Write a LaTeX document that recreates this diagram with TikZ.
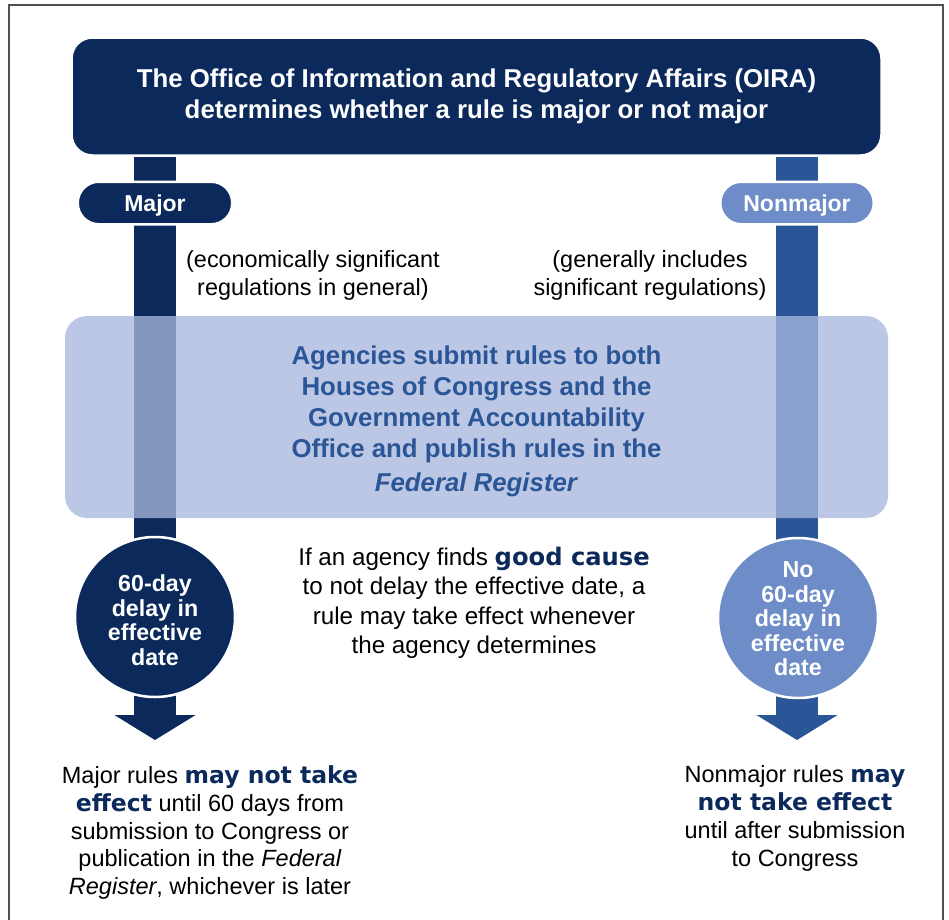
\documentclass[tikz,border=0pt]{standalone}
\usepackage{fontspec}
\setmainfont{Liberation Sans}
\newfontfamily\heavyfont{DejaVu Sans}
\usetikzlibrary{arrows.meta,backgrounds}
\definecolor{navy}{HTML}{0B2A5B}
\definecolor{midblue}{HTML}{2A5596}
\definecolor{lightblue}{HTML}{6E8DC8}
\definecolor{boxblue}{HTML}{A8B7DD}
\definecolor{framegray}{HTML}{505050}
\newcommand\hvy[1]{{\heavyfont\bfseries\color{navy}#1}}
\tikzset{
  titlebox/.style={fill=navy, draw=white, line width=2.5pt, text=white, rounded corners=21pt, minimum width=810pt, minimum height=118pt,
    align=center, font=\bfseries\fontsize{25.8}{31}\selectfont, inner sep=0pt},
  pill/.style={rounded corners=21pt, draw=white, line width=2.5pt, minimum height=42.5pt, text=white, inner sep=0pt,
    text height=16.5pt, text depth=0pt, font=\bfseries\fontsize{23}{24}\selectfont},
  note/.style={align=center, text=black, font=\fontsize{23.4}{28}\selectfont, inner sep=0pt},
  body/.style={align=center, text=black, font=\fontsize{24.2}{29.5}\selectfont, inner sep=0pt},
  bottom/.style={align=center, text=black, font=\fontsize{23.5}{27.75}\selectfont, inner sep=0pt},
  midbox/.style={fill=boxblue, fill opacity=0.775, rounded corners=22pt,
    minimum width=823pt, minimum height=202pt, inner sep=0pt},
  midtext/.style={align=center, text=midblue, inner sep=0pt,
    font=\bfseries\fontsize{25.8}{31}\selectfont},
  delay/.style={circle, draw=white, line width=2.5pt, minimum size=160pt, inner sep=0pt},
  delaytext/.style={align=center, text=white, inner sep=0pt, font=\bfseries\fontsize{23.2}{24.5}\selectfont},
  stemline/.style={line width=42pt},
  downarrow/.style={line width=42pt, -{Triangle[width=80pt,length=25pt]}},
}
\begin{document}
\begin{tikzpicture}[x=1pt,y=-1pt]
\useasboundingbox (0,0) rectangle (949,919);
\draw[framegray, line width=1.5pt] (9,925) -- (9,5) -- (943,5) -- (943,925);

\node[titlebox] (oira) at (476.5,96.5) {The Office of Information and Regulatory Affairs (OIRA)\\determines whether a rule is major or not major};

\node[pill, fill=navy, minimum width=154.5pt] (major) at (155,203) {Major};
\node[pill, fill=lightblue, minimum width=153.5pt] (nonmajor) at (797,203) {Nonmajor};

\node[note] (econ) at (313,275) {(economically significant\\regulations in general)};
\node[note] (gen) at (650,275) {(generally includes\\significant regulations)};

\node[midbox] (submit) at (476.5,417) {};
\node[midtext] (submittext) at ([yshift=-4pt]submit.center) {Agencies submit rules to both\\Houses of Congress and the\\Government Accountability\\Office and publish rules in the\\[3pt]\textit{Federal Register}};

\node[delay, fill=navy] (delayL) at (155,617) {};
\node[delaytext] (delayLtext) at ([yshift=-3pt]delayL.center) {60-day\\delay in\\effective\\date};
\node[delay, fill=lightblue] (delayR) at (798,618) {};
\node[delaytext] (delayRtext) at ([yshift=-1pt]delayR.center) {No\\60-day\\delay in\\effective\\date};

\coordinate (tipL) at (155,740);
\coordinate (tipR) at (797,740);

\node[body] (cause) at (474,603) {If an agency finds \hvy{good cause}\\to not delay the effective date, a\\rule may take effect whenever\\the agency determines};

\node[bottom] (majrule) at (210,832.5) {Major rules \hvy{may not take}\\\hvy{effect} until 60 days from\\submission to Congress or\\publication in the \textit{Federal}\\\textit{Register}, whichever is later};

\node[bottom] (nonrule) at (795,818.5) {Nonmajor rules \hvy{may}\\\hvy{not take effect}\\until after submission\\to Congress};

\begin{scope}[on background layer]
  \draw[stemline, navy] (oira.south -| delayL.center) -- (delayL.center);
  \draw[downarrow, navy] (delayL.center) -- (tipL);
  \draw[stemline, midblue] (oira.south -| tipR) -- (delayR.center -| tipR);
  \draw[downarrow, midblue] (delayR.center -| tipR) -- (tipR);
\end{scope}
\end{tikzpicture}
\end{document}
